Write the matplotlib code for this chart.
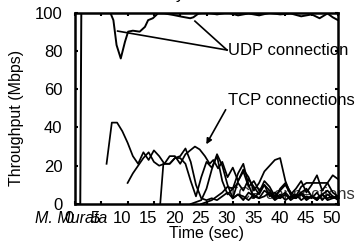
import matplotlib
matplotlib.use("Agg")
import matplotlib.pyplot as plt
import matplotlib.transforms as mtransforms

plt.rcParams['font.family'] = ['Liberation Sans', 'DejaVu Sans']

# UDP connection throughput (Mbps) vs time (sec)
udp_t = [0, 1.0, 1.2, 3, 6.7, 7.3, 7.9, 8.7, 9.5, 10.1, 11.0, 12.3, 13.3, 13.9, 14.8, 15.8,
         17, 18.7, 20.3, 21.9, 22.5, 23.5, 25, 27, 29, 31, 33, 35, 37, 39, 41, 43, 45,
         46.5, 48, 49, 50]
udp_y = [0, 0, 100, 100, 100, 96, 83, 76, 84.7, 90, 90.5, 90, 92.5, 96, 97, 99.6,
         99.5, 98.7, 97.8, 97, 97.5, 99.5, 100, 99, 100, 98.5, 99.5, 98.5, 99.8, 99, 99.5, 98, 99,
         97, 99.5, 97.5, 96]

# TCP connections
tcp1_t = [6, 7, 8, 9, 10, 11, 12, 13, 14, 15, 16, 17, 18, 19, 20, 21, 22, 23, 24, 25,
          26, 27, 28, 29, 30, 31, 32, 33, 34, 35, 36, 37, 38, 39, 40, 41, 42, 43, 44, 45,
          46, 47, 48, 49, 50]
tcp1_y = [21, 42.5, 42.5, 38, 32, 25, 21, 27, 23, 28, 25, 21, 21, 24, 25, 29, 22, 10, 3, 2,
          3, 2, 4, 6, 3, 5, 4, 2, 5, 3, 4, 6, 3, 5, 2, 4, 3, 5, 2, 4,
          3, 5, 2, 3, 4]

tcp2_t = [10, 11, 12, 13, 14, 15, 16, 17, 18, 19, 20, 21, 22.8, 23.7, 24.7, 25.6, 26.3, 27.2,
          28, 29, 30, 31, 32, 33, 34, 35, 36, 37, 38, 39, 40, 41, 42, 43, 44, 45, 46, 47,
          48, 49, 50]
tcp2_y = [11, 16, 20, 24, 27, 22, 20, 21, 25, 25, 21, 26, 30, 28.5, 25, 21, 23, 18.6,
          22, 14, 19, 12, 17, 9, 12, 7, 10, 4, 6, 3, 5, 2, 4, 6, 3, 4, 2, 5,
          3, 4, 2]

tcp3_t = [16.2, 16.8, 18, 19, 20, 21, 22, 23, 24, 25, 26, 27, 28, 29, 30, 31, 32, 33, 34,
          35, 36, 37, 38, 39, 40, 41, 42, 43, 44, 45, 46, 47, 48, 49, 50]
tcp3_y = [0, 21, 21, 24, 24, 21, 12, 4, 14, 22, 19, 25, 12, 5, 8, 16, 21, 10, 3,
          6, 12, 9, 4, 7, 10, 5, 3, 6, 8, 4, 2, 5, 7, 4, 3]

tcp4_t = [22, 23, 24, 25, 26, 27, 28, 29, 30, 31, 32, 33, 34, 35, 36, 37, 38, 39, 40, 41,
          42, 43, 44, 45, 46, 47, 48, 49, 50]
tcp4_y = [0, 1, 2, 8, 18, 26, 20, 10, 3, 12, 18, 14, 7, 11, 17, 20, 23, 24, 12, 5,
          8, 12, 6, 10, 15, 7, 11, 15, 13]

tcp5_t = [24, 25, 26, 27, 28, 29, 30, 31, 32, 33, 34, 35, 36, 37, 38, 39, 40, 41, 42, 43,
          44, 45, 46, 47, 48, 49, 50]
tcp5_y = [0, 1, 2, 4, 6, 9, 8, 11, 7, 13, 9, 5, 10, 7, 3, 8, 11, 6, 4, 9,
          11, 11, 11, 11, 11, 6, 4]

tcp6_t = [30, 31, 32, 33, 34, 35, 36, 37, 38, 39, 40, 41, 42, 43, 44, 45, 46, 47, 48, 49, 50]
tcp6_y = [3, 5, 2, 6, 4, 3, 7, 5, 2, 4, 6, 3, 5, 2, 4, 3, 6, 2, 5, 3, 4]

tcp_series = [(tcp1_t, tcp1_y), (tcp2_t, tcp2_y), (tcp3_t, tcp3_y),
              (tcp4_t, tcp4_y), (tcp5_t, tcp5_y), (tcp6_t, tcp6_y)]

x_ticks = [0, 5, 10, 15, 20, 25, 30, 35, 40, 45, 50]
y_ticks = [0, 20, 40, 60, 80, 100]

fig = plt.figure(figsize=(3.6, 2.49), dpi=100)
ax = fig.add_axes([75 / 360, 1 - 204 / 249, 263 / 360, 191.5 / 249])

# second "TCP connections" label sits under the lines near the bottom
ax.text(29.1, 4.7, "TCP connections", fontsize=12, va='center', ha='left',
        color='#333333', zorder=1, clip_on=False)

for t, y in tcp_series:
    ax.plot(t, y, color='black', lw=1.25, zorder=2)
ax.plot(udp_t, udp_y, color='black', lw=1.4, zorder=2)

# annotations
ax.text(29.1, 80.4, "UDP connection", fontsize=12, va='center', ha='left', clip_on=False)
ax.plot([28.9, 8.1], [80.4, 90.3], color='black', lw=1.2)
ax.plot([28.9, 22.8], [80.4, 95.5], color='black', lw=1.2)

ax.text(29.1, 54.3, "TCP connections", fontsize=12, va='center', ha='left', clip_on=False)
ax.annotate("", xy=(24.7, 29.9), xytext=(28.9, 50.5),
            arrowprops=dict(arrowstyle='-|>', color='black', lw=1.2, mutation_scale=8))

ax.set_xlim(0, 50)
ax.set_ylim(0, 100)
ax.set_xticks(x_ticks)
ax.set_yticks(y_ticks)
ax.tick_params(direction='in', length=2.5, width=1.5, top=True, right=True,
               labelsize=12)
ax.tick_params(axis='x', pad=5)
ax.tick_params(axis='y', pad=9)
for sp in ax.spines.values():
    sp.set_linewidth(1.8)
    sp.set_zorder(5)

# x tick labels sit a little left of their ticks
shift = mtransforms.ScaledTranslation(-0.06, 0, fig.dpi_scale_trans)
for lab in ax.get_xticklabels():
    lab.set_transform(lab.get_transform() + shift)

fig.text(17 / 360, 1 - 118 / 249, "Throughput (Mbps)", rotation=90, fontsize=11.5,
         ha='center', va='center')
fig.text(207 / 360, 1 - 233 / 249, "Time (sec)", fontsize=11.5, ha='center', va='center')
fig.text(35 / 360, 1 - 218 / 249, "M. Murata", fontsize=11.5, style='italic',
         ha='left', va='center')
# only the descender of the clipped title shows at the top edge
fig.text(0.5, 1 + 1 / 249, "y", fontsize=12, ha='center', va='baseline')

fig.savefig("out.png", dpi=100)
